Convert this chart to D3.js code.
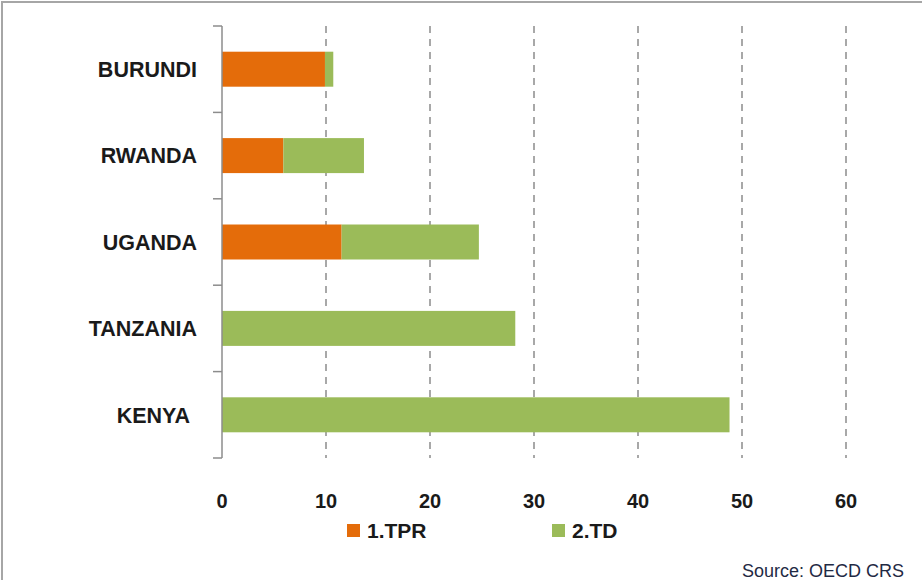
<!DOCTYPE html>
<html>
<head>
<meta charset="utf-8">
<script src="https://cdn.jsdelivr.net/npm/d3@7"></script>
<style>
    body { margin: 0; background: #fff; }
    svg { display: block; }
</style>
</head>
<body>
<div id="main"></div>
<script>
// countries, top to bottom
const countries = ["BURUNDI", "RWANDA", "UGANDA", "TANZANIA", "KENYA"];
const tpr = [9.9, 5.9, 11.5, 0, 0];
const td = [0.8, 7.75, 13.2, 28.2, 48.8];
const xTicks = [0, 10, 20, 30, 40, 50, 60];
const seriesNames = ["1.TPR", "2.TD"];
const colors = ["#E46C0A", "#9BBB59"];

const W = 922, H = 580;
const plot = {left: 222, right: 846, top: 26, bottom: 458};

const svg = d3.select('#main').append('svg')
    .attr('width', W)
    .attr('height', H);

// frame (only top and left edges are visible)
svg.append('rect')
    .attr('x', 2).attr('y', 2)
    .attr('width', W + 10).attr('height', H + 10)
    .attr('fill', 'none')
    .attr('stroke', '#a6a6a6')
    .attr('stroke-width', 2);

const x = d3.scaleLinear()
    .domain([0, 60])
    .range([plot.left, plot.right]);

const y = d3.scaleBand()
    .domain(countries)
    .range([plot.top, plot.bottom])
    .paddingInner(0.595)
    .paddingOuter(0.2975);

// dashed gridlines
svg.append('g')
    .selectAll('line')
    .data(xTicks.filter(d => d > 0))
    .enter()
    .append('line')
    .attr('x1', d => x(d)).attr('x2', d => x(d))
    .attr('y1', plot.top).attr('y2', plot.bottom)
    .attr('stroke', '#8c8c8c')
    .attr('stroke-width', 1.5)
    .attr('stroke-dasharray', '7,6');

// stacked bars
const rows = countries.map((c, i) => ({country: c, "1.TPR": tpr[i], "2.TD": td[i]}));
const stacked = d3.stack().keys(seriesNames)(rows);

svg.append('g')
    .selectAll('g')
    .data(stacked)
    .enter()
    .append('g')
    .attr('fill', (d, i) => colors[i])
    .selectAll('rect')
    .data(d => d.filter(p => p[1] - p[0] > 0))
    .enter()
    .append('rect')
    .attr('x', d => x(d[0]))
    .attr('y', d => y(d.data.country))
    .attr('width', d => x(d[1]) - x(d[0]))
    .attr('height', y.bandwidth());

// category axis: line with ticks at band boundaries
const yAxis = svg.append('g');
yAxis.append('line')
    .attr('x1', plot.left).attr('x2', plot.left)
    .attr('y1', plot.top).attr('y2', plot.bottom)
    .attr('stroke', '#8c8c8c')
    .attr('stroke-width', 1.5);

const bounds = countries.map(c => y(c) - y.step() * y.paddingInner() / 2);
bounds.push(plot.bottom);
yAxis.selectAll('line.tick')
    .data(bounds)
    .enter()
    .append('line')
    .attr('class', 'tick')
    .attr('x1', plot.left - 9).attr('x2', plot.left)
    .attr('y1', d => d).attr('y2', d => d)
    .attr('stroke', '#8c8c8c')
    .attr('stroke-width', 1.5);

yAxis.selectAll('text')
    .data(countries)
    .enter()
    .append('text')
    .attr('x', d => d === "KENYA" ? 190 : 197)
    .attr('y', d => y(d) + y.bandwidth() / 2)
    .attr('dy', '0.36em')
    .attr('text-anchor', 'end')
    .style('font-family', 'Liberation Sans, Arial, sans-serif')
    .style('font-weight', 'bold')
    .style('font-size', '21.5px')
    .style('fill', '#1a1a1a')
    .text(d => d);

// x tick labels
svg.append('g')
    .selectAll('text')
    .data(xTicks)
    .enter()
    .append('text')
    .attr('x', d => x(d))
    .attr('y', 508)
    .attr('text-anchor', 'middle')
    .style('font-family', 'Liberation Sans, Arial, sans-serif')
    .style('font-weight', 'bold')
    .style('font-size', '20px')
    .style('fill', '#1a1a1a')
    .text(d => d);

// legend
const legendX = [347, 552];
const legend = svg.append('g')
    .selectAll('g')
    .data(seriesNames)
    .enter()
    .append('g')
    .attr('transform', (d, i) => 'translate(' + legendX[i] + ',524)');

legend.append('rect')
    .attr('width', 13).attr('height', 13)
    .attr('fill', (d, i) => colors[i]);

legend.append('text')
    .attr('x', 20)
    .attr('y', 14)
    .style('font-family', 'Liberation Sans, Arial, sans-serif')
    .style('font-weight', 'bold')
    .style('font-size', '21px')
    .style('fill', '#1a1a1a')
    .text(d => d);

// source note
svg.append('text')
    .attr('x', 904)
    .attr('y', 577)
    .attr('text-anchor', 'end')
    .style('font-family', 'Liberation Sans, Arial, sans-serif')
    .style('font-size', '18px')
    .style('fill', '#1f2a44')
    .text('Source: OECD CRS');
</script>
</body>
</html>
